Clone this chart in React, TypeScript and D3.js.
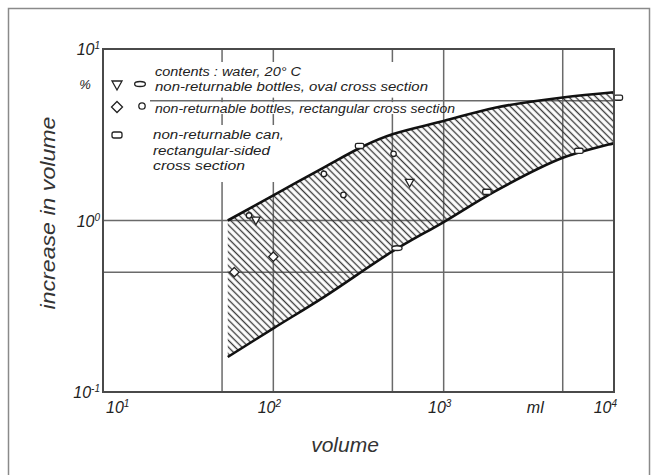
import React from 'react';
import * as d3 from 'd3';

// ---- data ----
const upperVolume = [54, 100, 200, 340, 500, 1000, 2000, 5000, 10000];
const upperIncrease = [1.0, 1.4, 2.05, 2.72, 3.18, 3.8, 4.55, 5.22, 5.6];
const lowerVolume = [54, 100, 200, 500, 1000, 2000, 5000, 10000];
const lowerIncrease = [0.16, 0.235, 0.36, 0.66, 0.98, 1.48, 2.32, 2.82];

const pointVolume = [59, 72, 79, 100, 198, 258, 321, 508, 631, 532, 1795, 6220, 10600];
const pointIncrease = [0.5, 1.07, 1.0, 0.615, 1.87, 1.41, 2.72, 2.45, 1.66, 0.69, 1.47, 2.55, 5.2];
const pointShape = ['diamond', 'circle', 'triangle', 'diamond', 'circle', 'circle', 'can', 'circle', 'triangle', 'oval', 'can', 'can', 'can'];

const xGrid = [10, 50, 100, 500, 1000, 5000, 10000];
const yGrid = [0.1, 0.5, 1, 5, 10];
const xTicks = [10, 100, 1000, 10000];
const xTickExp = ['1', '2', '3', '4'];
const yTicks = [10, 1, 0.1];
const yTickExp = ['1', '0', '-1'];

const legendSymbols = [['triangle', 'oval'], ['diamond', 'circle'], ['can']];
const legendLines = [
  'contents : water, 20° C',
  'non-returnable bottles, oval cross section',
  'non-returnable bottles, rectangular cross section',
  'non-returnable can,',
  'rectangular-sided',
  'cross section',
];
const legendWidths = [146, 273, 300, 131, 117, 92];

const FONT = '"Liberation Sans", Arial, sans-serif';

function Marker({ shape, x, y, s = 1 }: { shape: string; x: number; y: number; s?: number }) {
  const st = { fill: '#fff', stroke: '#222', strokeWidth: 1.3 };
  if (shape === 'triangle')
    return <path d={`M${x - 5 * s},${y - 4 * s}L${x + 5 * s},${y - 4 * s}L${x},${y + 5 * s}Z`} {...st} />;
  if (shape === 'diamond')
    return <path d={`M${x},${y - 5.5 * s}L${x + 5.5 * s},${y}L${x},${y + 5.5 * s}L${x - 5.5 * s},${y}Z`} {...st} />;
  if (shape === 'circle') return <circle cx={x} cy={y} r={3.2 * s} {...st} />;
  if (shape === 'oval') return <ellipse cx={x} cy={y} rx={6 * s} ry={2.8 * s} {...st} />;
  return <rect x={x - 5 * s} y={y - 3 * s} width={10 * s} height={6 * s} rx={2 * s} {...st} />;
}

export default function App() {
  const x = d3.scaleLog().domain([10, 10000]).range([103, 614]);
  const y = d3.scaleLog().domain([0.1, 10]).range([392, 49]);

  const upperPts: [number, number][] = upperVolume.map((v, i) => [x(v), y(upperIncrease[i])]);
  const lowerPts: [number, number][] = lowerVolume.map((v, i) => [x(v), y(lowerIncrease[i])]);
  const line = d3.line().curve(d3.curveCatmullRom.alpha(0.5));
  const upperD = line(upperPts) as string;
  const lowerD = line(lowerPts) as string;
  const lowerRevD = line([...lowerPts].reverse()) as string;
  const bandD = upperD + lowerRevD.replace(/^M/, 'L') + 'Z';

  const left = x(10), right = x(10000), top = y(10), bottom = y(0.1);
  const y5 = y(5);

  return (
    <svg width={656} height={475} style={{ position: 'absolute', left: 0, top: 0, background: '#fff' }}>
      <defs>
        <pattern id="hatch" patternUnits="userSpaceOnUse" width={4.8} height={4.8} patternTransform="rotate(45)">
          <line x1={0} y1={2.4} x2={4.8} y2={2.4} stroke="#3a3a3a" strokeWidth={1.35} />
        </pattern>
      </defs>
      <rect x={8.5} y={8.5} width={641} height={480} fill="none" stroke="#8a8a8a" strokeWidth={1.5} />

      {/* grid */}
      <g stroke="#6a6a6a" strokeWidth={1.5}>
        {xGrid.map((v) => (
          <line key={'gx' + v} x1={x(v)} x2={x(v)} y1={top} y2={bottom} />
        ))}
        {yGrid.map((v) => (
          <line key={'gy' + v} x1={left} x2={right} y1={y(v)} y2={y(v)} />
        ))}
      </g>

      {/* legend background (hides grid lines behind text) */}
      <g fill="#fff">
        <rect x={104} y={62} width={328} height={y5 - 3 - 62} />
        <rect x={104} y={y5 + 1.5} width={336} height={114 - y5 - 1.5} />
        <rect x={104} y={125} width={196} height={57} />
        <rect x={104} y={y5 - 4} width={46} height={8} />
      </g>

      {/* band */}
      <path d={bandD} fill="url(#hatch)" stroke="none" />
      <path d={upperD} fill="none" stroke="#111" strokeWidth={2.6} />
      <path d={lowerD} fill="none" stroke="#111" strokeWidth={2.6} />

      {/* data markers */}
      {pointVolume.map((v, i) => (
        <Marker key={'p' + i} shape={pointShape[i]} x={x(v)} y={y(pointIncrease[i])} s={0.85} />
      ))}

      {/* frame */}
      <rect x={left} y={top} width={right - left} height={bottom - top} fill="none" stroke="#4a4a4a" strokeWidth={2} />

      {/* tick labels */}
      <g fontFamily={FONT} fontStyle="italic" fill="#222" fontSize={16}>
        {yTicks.map((t, i) => (
          <text key={'yt' + t} x={left - 3} y={y(t) + 6} textAnchor="end">
            10<tspan dy={-6} fontSize={10}>{yTickExp[i]}</tspan>
          </text>
        ))}
        {xTicks.map((t, i) => (
          <text
            key={'xt' + t}
            x={i === 0 ? x(t) + 3 : i === xTicks.length - 1 ? x(t) + 3 : x(t) - 4}
            y={bottom + 21}
            textAnchor={i === 0 ? 'start' : i === xTicks.length - 1 ? 'end' : 'middle'}
          >
            10<tspan dy={-6} fontSize={10}>{xTickExp[i]}</tspan>
          </text>
        ))}
        <text x={x(3450)} y={bottom + 21} textAnchor="middle">ml</text>
        <text x={85} y={89} textAnchor="middle" fontSize={13}>%</text>
      </g>

      {/* axis titles */}
      <text x={345} y={452} textAnchor="middle" fontFamily={FONT} fontStyle="italic" fontSize={21} fill="#333">
        volume
      </text>
      <text
        transform="translate(55,213) rotate(-90)"
        textAnchor="middle"
        fontFamily={FONT}
        fontStyle="italic"
        fontSize={21}
        fill="#333"
        textLength={193}
        lengthAdjust="spacingAndGlyphs"
      >
        increase in volume
      </text>

      {/* legend */}
      <g>
        <Marker shape={legendSymbols[0][0]} x={117} y={85} />
        <Marker shape={legendSymbols[0][1]} x={140} y={84} s={0.9} />
        <Marker shape={legendSymbols[1][0]} x={117} y={107} />
        <Marker shape={legendSymbols[1][1]} x={142} y={106} />
        <Marker shape={legendSymbols[2][0]} x={117} y={135} />
      </g>
      <g fontFamily={FONT} fontStyle="italic" fontSize={12.5} fill="#222">
        {legendLines.map((t, i) => {
          const ys = [76, 91, 113, 139, 155, 170];
          const xs = [155, 155, 155, 153, 153, 153];
          return (
            <text key={'lg' + i} x={xs[i]} y={ys[i]} textLength={legendWidths[i]} lengthAdjust="spacingAndGlyphs">
              {t}
            </text>
          );
        })}
      </g>
    </svg>
  );
}
